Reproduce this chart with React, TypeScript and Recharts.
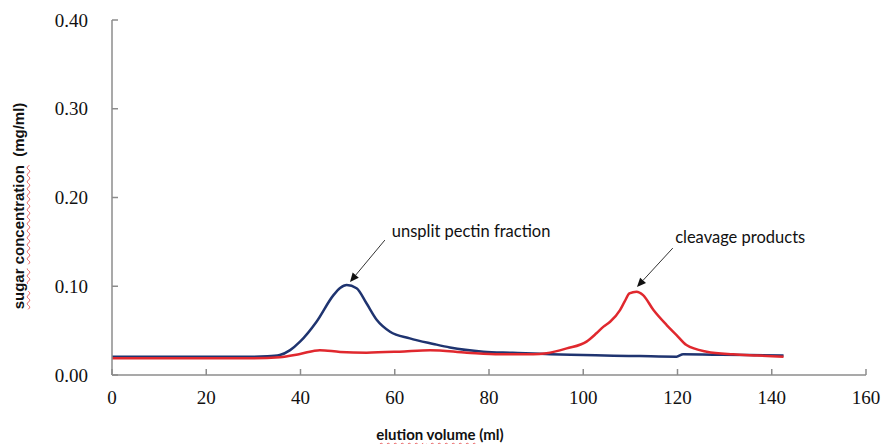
import React from "react";
import { LineChart, Line, XAxis, YAxis, ReferenceLine, ReferenceDot } from "recharts";

const xTicks = [0, 20, 40, 60, 80, 100, 120, 140, 160];
const yTicks = [0, 0.1, 0.2, 0.3, 0.4];

const blueX = [0, 10, 20, 30, 33, 35.6, 37.8, 39.9, 43.4, 47, 48.4, 49.8, 51.9, 54, 56.2, 59, 63.2, 68.2, 71.7, 78.8, 85, 93, 100, 106.4, 112, 119.8, 121.2, 127.5, 135, 142.5];
const blueY = [0.0206, 0.0206, 0.0206, 0.0206, 0.021, 0.0225, 0.028, 0.0375, 0.06, 0.09, 0.098, 0.1014, 0.0977, 0.0808, 0.062, 0.0488, 0.0413, 0.035, 0.031, 0.0263, 0.025, 0.0233, 0.0225, 0.0218, 0.0213, 0.0207, 0.0233, 0.0229, 0.0225, 0.022];

const redX = [0, 10, 20, 30, 35.6, 39.9, 44.1, 48.4, 54, 61, 67.5, 75.3, 82.3, 89.4, 92.2, 96.5, 100.7, 102.8, 104.3, 105.7, 107.8, 108.8, 109.8, 111.3, 112.7, 114.9, 117.7, 119.8, 121.9, 126.2, 131.8, 137, 142.5];
const redY = [0.019, 0.019, 0.019, 0.019, 0.02, 0.0237, 0.028, 0.026, 0.0252, 0.0263, 0.028, 0.0252, 0.0233, 0.0233, 0.0244, 0.03, 0.0376, 0.047, 0.0545, 0.06, 0.0732, 0.083, 0.092, 0.0939, 0.09, 0.0732, 0.0563, 0.045, 0.0338, 0.0263, 0.0233, 0.022, 0.0206];

const blueData = blueX.map((x, i) => ({ x, y: blueY[i] }));
const redData = redX.map((x, i) => ({ x, y: redY[i] }));

const annotations = [
  { text: "unsplit pectin fraction", tx: 76.2, ty: 0.1623, from: [57.9, 0.152], to: [50.5, 0.1048] },
  { text: "cleavage products", tx: 133.3, ty: 0.1555, from: [119.0, 0.143], to: [111.4, 0.0992] },
];

const AXIS = "#8c8c8c";
const BLUE = "#1f3470";
const RED = "#e0282e";

const ArrowShape = (props: any) => {
  const { x1, y1, x2, y2 } = props;
  if ([x1, y1, x2, y2].some((v) => typeof v !== "number")) return null;
  const ang = Math.atan2(y2 - y1, x2 - x1);
  const L = 9, W = 4;
  const bx = x2 - L * Math.cos(ang);
  const by = y2 - L * Math.sin(ang);
  const px = -Math.sin(ang) * W;
  const py = Math.cos(ang) * W;
  return (
    <g>
      <line x1={x1} y1={y1} x2={bx} y2={by} stroke="#333" strokeWidth={1} />
      <polygon points={`${x2},${y2} ${bx + px},${by + py} ${bx - px},${by - py}`} fill="#111" />
    </g>
  );
};

const squiggle: React.CSSProperties = {
  textDecorationLine: "underline",
  textDecorationStyle: "wavy",
  textDecorationColor: "#e86060",
  textDecorationThickness: "1px",
  textUnderlineOffset: "2px",
};

export default function App() {
  return (
    <div style={{ position: "absolute", left: 0, top: 0, width: 884, height: 444, background: "#fff", overflow: "hidden" }}>
      <LineChart width={884} height={444} margin={{ top: 20, right: 18, bottom: 39, left: 52 }}>
        <XAxis
          type="number"
          dataKey="x"
          domain={[0, 160]}
          ticks={xTicks}
          allowDataOverflow
          height={30}
          stroke={AXIS}
          strokeWidth={1.5}
          tickSize={-6}
          tickMargin={22}
          tick={{ fill: "#111", fontFamily: "Liberation Serif", fontSize: 19 }}
        />
        <YAxis
          type="number"
          dataKey="y"
          domain={[0, 0.4]}
          ticks={yTicks}
          width={60}
          stroke={AXIS}
          strokeWidth={1.5}
          tickSize={-6}
          tickMargin={30}
          tickFormatter={(v: number) => v.toFixed(2)}
          tick={{ fill: "#111", fontFamily: "Liberation Serif", fontSize: 19 }}
        />
        <Line data={blueData} dataKey="y" type="monotone" stroke={BLUE} strokeWidth={2.5} dot={false} isAnimationActive={false} />
        <Line data={redData} dataKey="y" type="monotone" stroke={RED} strokeWidth={2.5} dot={false} isAnimationActive={false} />
        {annotations.map((a) => (
          <ReferenceLine
            key={a.text + "arrow"}
            segment={[{ x: a.from[0], y: a.from[1] }, { x: a.to[0], y: a.to[1] }]}
            shape={ArrowShape}
            ifOverflow="visible"
          />
        ))}
        {annotations.map((a) => (
          <ReferenceDot
            key={a.text}
            x={a.tx}
            y={a.ty}
            ifOverflow="visible"
            shape={(p: any) => (
              <text x={p.cx} y={p.cy} textAnchor="middle" dominantBaseline="central" fontFamily="Lato" fontSize={16.5} fill="#111">
                {a.text}
              </text>
            )}
          />
        ))}
      </LineChart>
      <div
        style={{
          position: "absolute",
          left: 19,
          top: 206,
          transform: "translate(-50%, -50%) rotate(-90deg)",
          whiteSpace: "pre",
          fontFamily: "Liberation Sans",
          fontWeight: "bold",
          fontSize: 15,
          color: "#111",
          lineHeight: "18px",
        }}
      >
        <span style={squiggle}>sugar</span> <span style={squiggle}>concentration</span>{"  (mg/ml)"}
      </div>
      <div
        style={{
          position: "absolute",
          left: 440,
          top: 426,
          whiteSpace: "pre",
          fontFamily: "Lato",
          fontWeight: "bold",
          fontSize: 15,
          color: "#111",
          lineHeight: "16px",
          transform: "translateX(-50%)",
        }}
      >
        <span style={squiggle}>elution</span> <span style={squiggle}>volume</span> (ml)
      </div>
    </div>
  );
}
